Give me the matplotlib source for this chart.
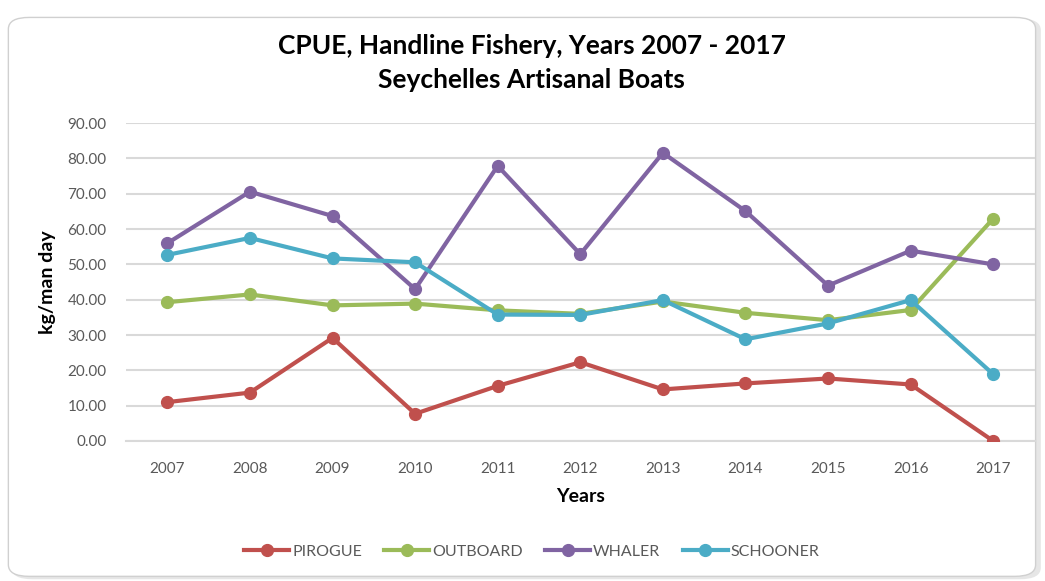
import matplotlib.pyplot as plt
from matplotlib.patches import FancyBboxPatch

years = ['2007', '2008', '2009', '2010', '2011', '2012', '2013', '2014', '2015', '2016', '2017']
pirogue = [11.0, 13.7, 29.2, 7.7, 15.6, 22.3, 14.6, 16.3, 17.7, 16.0, 0.0]
outboard = [39.3, 41.5, 38.4, 38.9, 37.0, 36.0, 39.5, 36.3, 34.2, 37.1, 63.0]
whaler = [56.0, 70.6, 63.7, 43.0, 77.9, 52.9, 81.6, 65.1, 44.0, 53.9, 50.0]
schooner = [52.7, 57.5, 51.7, 50.6, 35.8, 35.7, 39.9, 28.8, 33.3, 39.9, 18.9]

series_names = ['PIROGUE', 'OUTBOARD', 'WHALER', 'SCHOONER']
series_colors = ['#C0504D', '#9BBB59', '#8064A2', '#4BACC6']

plt.rcParams['font.family'] = ['Lato', 'DejaVu Sans']

fig = plt.figure(figsize=(10.45, 5.81), dpi=100)

# chart frame with rounded corners and a soft shadow
shadow = FancyBboxPatch((0.011, 0.003), 0.985, 0.965, boxstyle='round,pad=0,rounding_size=0.02',
                        transform=fig.transFigure, facecolor='#E6E6E6', edgecolor='none', zorder=-2)
frame = FancyBboxPatch((0.008, 0.008), 0.983, 0.962, boxstyle='round,pad=0,rounding_size=0.02',
                       transform=fig.transFigure, facecolor='white', edgecolor='#D0D0D0', linewidth=1, zorder=-1)
fig.patches.extend([shadow, frame])

ax = fig.add_axes([0.1206, 0.241, 0.8694, 0.547])
ax.set_facecolor('none')

x = list(range(len(years)))
for vals, name, col in zip([pirogue, outboard, whaler, schooner], series_names, series_colors):
    ax.plot(x, vals, color=col, linewidth=3, marker='o', markersize=8.5, label=name, zorder=3)

ax.set_xlim(-0.5, len(years) - 0.5)
ax.set_ylim(0, 90)
ax.set_yticks([i * 10 for i in range(10)])
ax.set_yticklabels(['%.2f' % (i * 10) for i in range(10)])
ax.set_xticks(x)
ax.set_xticklabels(years)
ax.grid(axis='y', color='#D9D9D9', linewidth=1.5, zorder=0)
ax.set_axisbelow(True)
for s in ['top', 'right', 'left']:
    ax.spines[s].set_visible(False)
ax.spines['bottom'].set_color('#D9D9D9')
ax.spines['bottom'].set_linewidth(1.5)
ax.tick_params(axis='y', length=0, labelsize=11, labelcolor='#595959', pad=14)
ax.tick_params(axis='x', length=0, labelsize=11, labelcolor='#595959', pad=15)

ax.set_xlabel('Years', fontsize=14, fontweight='bold', labelpad=9)
ax.set_ylabel('kg/man day', fontsize=14, fontweight='bold', labelpad=8)

fig.text(0.509, 0.92, 'CPUE, Handline Fishery, Years 2007 - 2017', ha='center', va='center',
         fontsize=19, fontweight='bold')
fig.text(0.509, 0.862, 'Seychelles Artisanal Boats', ha='center', va='center',
         fontsize=19, fontweight='bold')

leg = fig.legend(loc='center', bbox_to_anchor=(0.509, 0.05), ncol=4, frameon=False,
                 fontsize=11.5, handlelength=2.8, handletextpad=0.2, columnspacing=1.4)
for t in leg.get_texts():
    t.set_color('#595959')

fig.savefig('out.png', dpi=100)
